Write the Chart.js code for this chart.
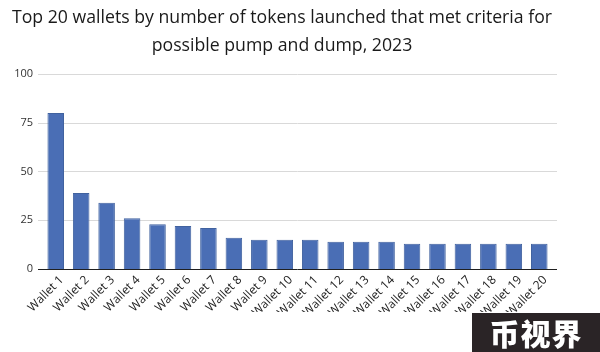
<!DOCTYPE html>
<html>
<head>
<meta charset="utf-8">
<script src="https://cdn.jsdelivr.net/npm/chart.js@4/dist/chart.umd.min.js"></script>
<style>
  html, body { margin: 0; padding: 0; background: #fff; }
  #wrap { position: relative; width: 600px; height: 352px; }
  #c { display: block; }
  #wm { position: absolute; left: 472px; top: 313px; width: 128px; height: 39px; background: #2a2426;
        color: #fff; font-family: "Noto Sans CJK SC", sans-serif; font-weight: 900; font-size: 30px;
        line-height: 39px; text-align: center; letter-spacing: 1px; }
</style>
</head>
<body>
<div id="wrap">
  <canvas id="c" width="600" height="352"></canvas>
  <div id="wm">币视界</div>
</div>
<script>
const categories = ["Wallet 1","Wallet 2","Wallet 3","Wallet 4","Wallet 5","Wallet 6","Wallet 7","Wallet 8","Wallet 9","Wallet 10",
  "Wallet 11","Wallet 12","Wallet 13","Wallet 14","Wallet 15","Wallet 16","Wallet 17","Wallet 18","Wallet 19","Wallet 20"];
const tokensLaunched = [80, 39, 34, 26, 23, 22, 21, 16, 15, 15, 15, 14, 14, 14, 13, 13, 13, 13, 13, 13];
const yTicks = [0, 25, 50, 75, 100];
const titleLines = ["Top 20 wallets by number of tokens launched that met criteria for", "possible pump and dump, 2023"];

// Extends horizontal gridlines and the baseline a little past the category band, as in the reference
const gridPlugin = {
  id: 'extGrid',
  beforeDatasetsDraw(chart) {
    const { ctx, chartArea, scales } = chart;
    const ext = 5;
    ctx.save();
    scales.y.ticks.forEach(t => {
      const y = Math.round(scales.y.getPixelForValue(t.value)) + 0.5;
      ctx.beginPath();
      ctx.moveTo(chartArea.left - ext, y);
      ctx.lineTo(chartArea.right + ext, y);
      ctx.strokeStyle = t.value === 0 ? '#1f1f1f' : '#d9d9d9';
      ctx.lineWidth = 1;
      ctx.stroke();
    });
    ctx.restore();
  }
};

new Chart(document.getElementById('c'), {
  type: 'bar',
  data: {
    labels: categories,
    datasets: [{
      data: tokensLaunched,
      backgroundColor: '#4a6eb5',
      borderColor: '#41629f',
      borderWidth: 1,
      barPercentage: 0.65,
      categoryPercentage: 1.0
    }]
  },
  plugins: [gridPlugin],
  options: {
    responsive: false,
    animation: false,
    layout: { padding: { left: 12, right: 48, top: 0, bottom: 40 } },
    plugins: {
      legend: { display: false },
      tooltip: { enabled: false },
      title: {
        display: true,
        text: titleLines,
        color: '#1a1a1a',
        font: { family: 'Open Sans', size: 17.7, weight: 'normal', lineHeight: 1.58 },
        padding: { top: 4, bottom: 14 }
      }
    },
    scales: {
      x: {
        afterFit: (ax) => { ax.height = 43; },
        grid: { display: false, drawTicks: false },
        border: { display: false },
        ticks: {
          color: '#222', minRotation: 45, maxRotation: 45, padding: 4, labelOffset: 6,
          font: { family: 'Open Sans', size: 12 }
        }
      },
      y: {
        min: 0, max: 100,
        afterFit: (ax) => { ax.width = 31; },
        afterBuildTicks: (ax) => { ax.ticks = yTicks.map(v => ({ value: v })); },
        grid: { display: false, drawTicks: false },
        border: { display: false },
        ticks: { color: '#333', padding: 10, font: { family: 'Open Sans', size: 11 } }
      }
    }
  }
});
</script>
</body>
</html>
